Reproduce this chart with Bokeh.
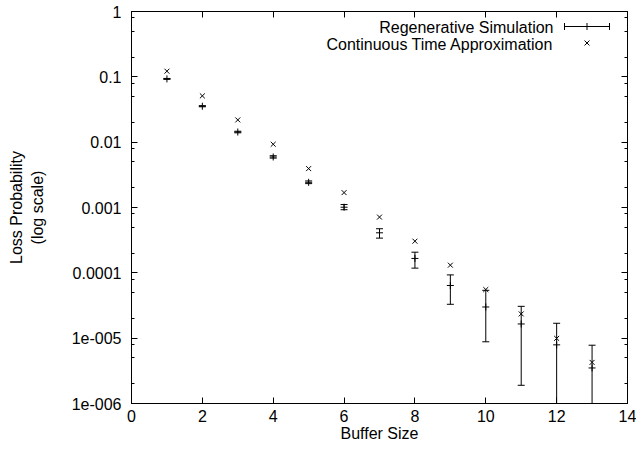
from bokeh.plotting import figure
from bokeh.models import Range1d, FixedTicker, LogAxis, LinearAxis, CustomJSTickFormatter
from bokeh.core.properties import value
from bokeh.embed import file_html
from bokeh.resources import INLINE

# ---- data ----
buffer_size = [1, 2, 3, 4, 5, 6, 7, 8, 9, 10, 11, 12, 13]
sim_value = [0.093, 0.0355, 0.0143, 0.00593, 0.00243, 0.00101, 0.00041,
             0.000166, 6.4e-5, 3.0e-5, 1.65e-5, 7.9e-6, 3.5e-6]
sim_lower = [0.0915, 0.0348, 0.0139, 0.0057, 0.00232, 0.000925, 0.00034,
             0.000118, 3.3e-5, 8.8e-6, 1.9e-6, 1e-7, 1e-7]
sim_upper = [0.0945, 0.0362, 0.0147, 0.0062, 0.00255, 0.00111, 0.000473,
             0.000207, 9.3e-5, 5.4e-5, 3.07e-5, 1.69e-5, 7.8e-6]
approx_value = [0.122, 0.0511, 0.0219, 0.00929, 0.00394, 0.00169, 0.000713,
                0.000305, 0.000131, 5.55e-5, 2.35e-5, 9.93e-6, 4.26e-6]

x_ticks = [0, 2, 4, 6, 8, 10, 12, 14]
y_ticks = [1e-6, 1e-5, 1e-4, 1e-3, 1e-2, 1e-1, 1]
y_tick_labels = ["1e-006", "1e-005", "0.0001", "0.001", "0.01", "0.1", "1"]
y_minor = [m * 10.0 ** e for e in range(-6, 0) for m in (2, 5, 8)]

series_names = ["Regenerative Simulation", "Continuous Time Approximation"]

FONT = "Liberation Sans"
FS = "16px"
X0, X1 = 0, 14
YLOG0, YLOG1 = -6, 0
W, H = 636, 447
ML, MR, MT, MB = 131, 9, 11, 44
FW, FH = W - ML - MR, H - MT - MB

p = figure(width=W, height=H, x_range=Range1d(X0, X1),
           y_range=Range1d(10 ** YLOG0, 10 ** YLOG1), y_axis_type="log",
           output_backend="svg", toolbar_location=None,
           min_border_left=ML, min_border_right=MR, min_border_top=MT,
           min_border_bottom=MB)
p.grid.visible = False
p.outline_line_color = "black"
p.outline_line_width = 1
p.background_fill_color = "white"
p.border_fill_color = "white"


def style_axis(ax, labels=True):
    ax.axis_line_color = "black"
    ax.major_tick_line_color = "black"
    ax.minor_tick_line_color = "black"
    ax.major_tick_in = 6
    ax.major_tick_out = 0
    ax.minor_tick_in = 3
    ax.minor_tick_out = 0
    ax.major_label_text_font = FONT
    ax.major_label_text_color = "black"
    ax.major_label_text_font_size = FS
    ax.axis_label_text_font = FONT
    ax.axis_label_text_font_size = FS
    ax.axis_label_text_font_style = "normal"
    ax.axis_label_text_color = "black"
    if not labels:
        ax.formatter = CustomJSTickFormatter(code="return ''")
        ax.major_label_standoff = 0


xt = FixedTicker(ticks=x_ticks, minor_ticks=[])
yt = FixedTicker(ticks=y_ticks, minor_ticks=y_minor)
overrides = {t: l for t, l in zip(y_ticks, y_tick_labels)}

xa = p.xaxis[0]
xa.ticker = xt
style_axis(xa)
xa.axis_label = "Buffer Size"
xa.major_label_standoff = 6
xa.axis_label_standoff = 0

ya = p.yaxis[0]
ya.ticker = yt
ya.major_label_overrides = overrides
style_axis(ya)
ya.axis_label = "Loss Probability\n(log scale)"
ya.major_label_standoff = 10
ya.axis_label_standoff = 23

ra = LogAxis(ticker=yt)
style_axis(ra, labels=False)
p.add_layout(ra, "right")
ta = LinearAxis(ticker=xt)
style_axis(ta, labels=False)
p.add_layout(ta, "above")

# ---- data marks ----
p.segment(x0=buffer_size, y0=sim_lower, x1=buffer_size, y1=sim_upper,
          line_color="black", line_width=1)
p.scatter(buffer_size, sim_lower, marker="dash", size=7, line_color="black", line_width=1)
p.scatter(buffer_size, sim_upper, marker="dash", size=7, line_color="black", line_width=1)
p.scatter(buffer_size, sim_value, marker="cross", size=7, line_color="black", line_width=1)
p.scatter(buffer_size, approx_value, marker="x", size=7, line_color="black", line_width=1)


# ---- key (positions given in frame pixels, converted to data) ----
def fdata(px, py):
    return (X0 + px / FW * (X1 - X0),
            10 ** (YLOG1 - py / FH * (YLOG1 - YLOG0)))


tx, ty1 = fdata(422, 16)
_, ty2 = fdata(422, 32.5)
p.text(x=[tx, tx], y=[ty1, ty2], text=series_names, text_align="right",
       text_baseline="middle", text_font=value(FONT), text_font_size=FS,
       text_color="black")
lx0, ly1 = fdata(433, 15)
lx1, _ = fdata(478, 15)
lxm, ly2 = fdata(455.5, 31.5)
p.segment(x0=[lx0], y0=[ly1], x1=[lx1], y1=[ly1], line_color="black", line_width=1)
p.scatter([lx0, lx1], [ly1, ly1], marker="dash", size=7, angle=1.5708,
          line_color="black", line_width=1)
p.scatter([lxm], [ly1], marker="cross", size=7, line_color="black", line_width=1)
p.scatter([lxm], [ly2], marker="x", size=7, line_color="black", line_width=1)

open("out.html", "w").write(file_html(p, INLINE))
